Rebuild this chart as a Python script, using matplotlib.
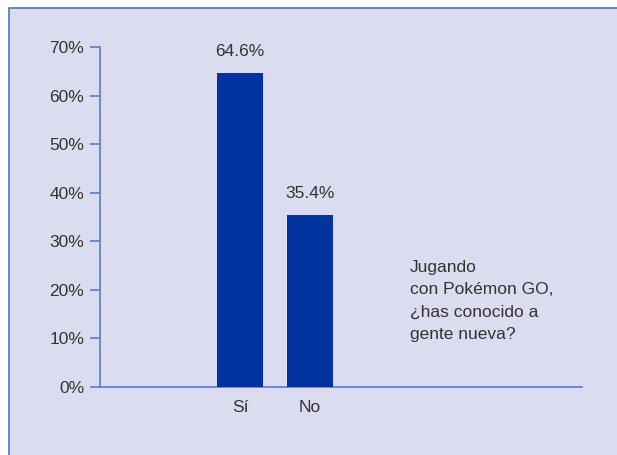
import matplotlib
matplotlib.use('Agg')
import matplotlib.pyplot as plt
from matplotlib.patches import Rectangle
from matplotlib.lines import Line2D

# survey answers
categories = ['Sí', 'No']
values = [64.6, 35.4]
value_labels = ['64.6%', '35.4%']
y_ticks = [0, 10, 20, 30, 40, 50, 60, 70]
y_tick_labels = ['0%', '10%', '20%', '30%', '40%', '50%', '60%', '70%']
question = 'Jugando\ncon Pokémon GO,\n¿has conocido a\ngente nueva?'

panel_color = '#dcdcf0'
frame_color = '#5a7ccc'
bar_color = '#0033a0'
text_color = '#333333'

plt.rcParams['font.family'] = ['Liberation Sans', 'DejaVu Sans']

fig = plt.figure(figsize=(6.17, 4.55), dpi=100)
fig.patch.set_facecolor('white')

# lavender panel, framed only on the left and top
px, py = 8.5 / 617, 1 - 7.5 / 455
panel = Rectangle((px, 0), 1 - px, py, transform=fig.transFigure,
                  facecolor=panel_color, edgecolor='none', zorder=-10)
fig.patches.append(panel)
fig.lines.append(Line2D([px, px, 1], [0, py, py], transform=fig.transFigure,
                        color=frame_color, linewidth=1.3, zorder=-9))

ax = fig.add_axes([100 / 617, 68 / 455, 482 / 617, 340 / 455])
ax.set_facecolor('none')
ax.set_zorder(1)

x = list(range(len(categories)))
ax.bar(x, values, width=0.66, color=bar_color, zorder=3)

for xi, v, lab in zip(x, values, value_labels):
    ax.annotate(lab, (xi, v), xytext=(0, 10), textcoords='offset points',
                ha='center', va='bottom', fontsize=12.5, color=text_color)

ax.set_xlim(-2.0, 4.886)
ax.set_ylim(0, 70)
ax.set_xticks(x)
ax.set_xticklabels(categories)
ax.set_yticks(y_ticks)
ax.set_yticklabels(y_tick_labels)

for side in ['top', 'right']:
    ax.spines[side].set_visible(False)
for side in ['left', 'bottom']:
    ax.spines[side].set_color(frame_color)
    ax.spines[side].set_linewidth(1.2)

ax.tick_params(axis='y', length=7, width=1.2, color=frame_color, pad=4.5,
               labelsize=12.5, labelcolor=text_color)
ax.tick_params(axis='x', length=0, pad=9, labelsize=12.5, labelcolor=text_color)

fig.text(410 / 617, (455 - 260) / 455, question,
         ha='left', va='top', fontsize=12.5, color=text_color, linespacing=1.62)

fig.savefig('out.png', dpi=100)
